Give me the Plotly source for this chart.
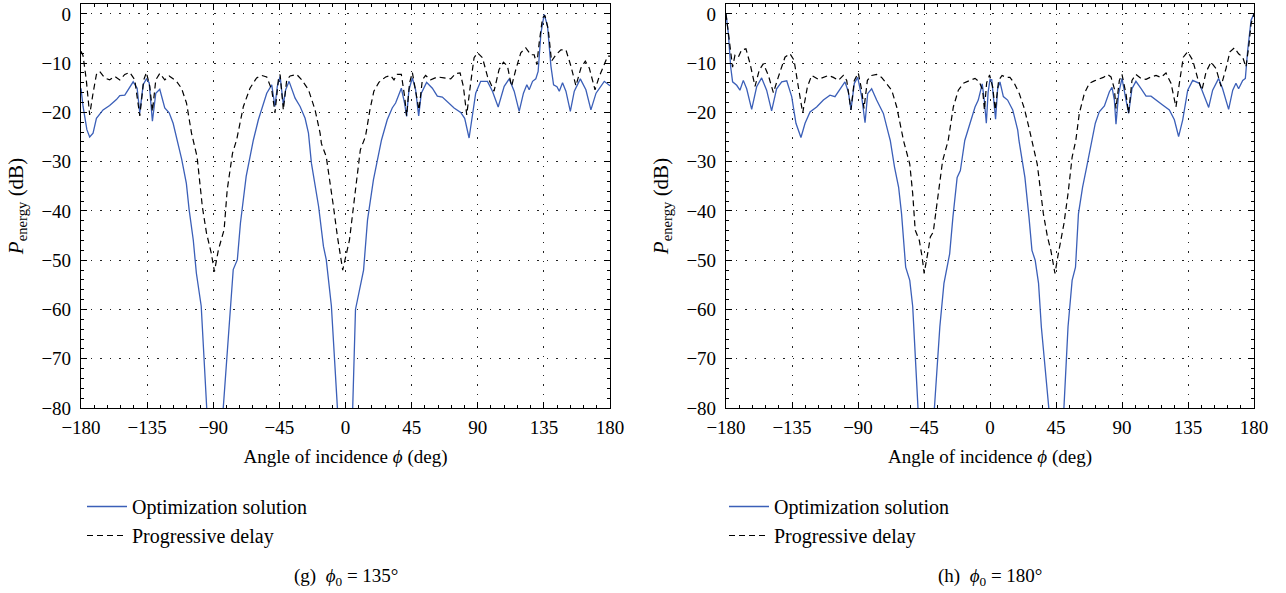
import plotly.graph_objects as go

# ---------------- data ----------------
# (g) phi0 = 135 deg
g_opt_x = [-180, -178.6, -176, -174.1, -171.8, -169.5, -165, -160.5, -155.9, -153.6, -150.2, -146.8, -144.5,
           -141.8, -140, -137.7, -135.5, -133.6, -131.4, -129.1, -126.4, -123, -120, -117.3, -115, -111.5,
           -108.3, -106.4, -103.6, -101.5, -98.2, -94.6, -89, -83.2, -76.4, -73.6, -71.5, -67.6, -62.7,
           -59.3, -56.4, -53.6, -50.2, -48, -46.4, -44.5, -42.3, -40.7, -38.4, -34.3, -30.9, -27.5, -25.2,
           -23.2, -18.3, -15, -13.1, -9.6, -5.5, 0, 4.9, 6.8, 12.3, 15, 19, 24.5,
           28.4, 31.8, 34.1, 36.4, 38, 40.2, 41.6, 43.2, 45.5, 47.7, 49.8, 51.6, 55.2, 59.1, 62.5, 65.9,
           69.3, 73.9, 78.4, 81.1, 84.1, 86.4, 88.6, 92, 96.6, 100, 103.9, 108, 111.4, 114.8, 118.2, 121.1,
           123.4, 125, 127.3, 129.5, 131.1, 133, 135.2, 137.5, 139.8, 141.6, 143.9, 145.5, 147.7, 150, 153,
           155.7, 159.8, 163.6, 167, 170.5, 176.1, 180]
g_opt_y = [-15.1, -18.8, -23.5, -25.0, -24.2, -21.2, -19.5, -18.6, -17.4, -16.6, -16.5, -14.8, -13.8,
           -15.1, -20.1, -14.4, -13.2, -14.0, -21.8, -16.1, -15.3, -19.1, -20.1, -22.2, -24.9, -29.5,
           -34.4, -39.8, -45.9, -52.6, -59.3, -80, -110, -80, -51.9, -49.9, -42.5, -33, -25.6,
           -21.5, -18.6, -16.1, -14.4, -18.8, -14.7, -12.7, -18.4, -15.4, -13.7, -17.1, -18.8, -21.2, -24.2,
           -30.3, -39.1, -47.2, -49.9, -59.3, -80, -110, -80, -60, -52, -41.8, -33.7, -25.6,
           -21.5, -19.1, -18.1, -16.1, -15.1, -18.1, -20.8, -15.4, -13.0, -15.4, -20.7, -16.1, -13.9, -15.1, -16.7, -16.9,
           -17.8, -19.1, -20, -21.2, -25.2, -20.8, -16.1, -13.7, -13.7, -15.7, -18.9, -14.7, -13.2, -15.7, -19.8, -16.1,
           -14.4, -15.4, -13.7, -13.2, -11.7, -3.9, -0.1, -2.5, -10.6, -14.4, -14.8, -15.7, -14.0, -15.7, -19.8,
           -15.7, -13.2, -15.4, -19.5, -16.1, -13.7, -14.6]

g_prog_x = [-180, -178.6, -176.4, -174.1, -171.8, -169.5, -167.3, -163.9, -160.5, -157, -153.6, -150.2, -146.8,
            -143.4, -140, -137.3, -135.5, -133.2, -131.4, -129.1, -126.4, -123, -120, -115, -111.6, -108.2,
            -104.8, -101, -97.4, -94.6, -91.4, -89.2, -86.5, -82.6, -80.5, -76.9, -74.1, -69.5, -65, -60.5,
            -57, -53.6, -50.2, -48, -45.7, -44.5, -42.3, -40, -37.7, -33.2, -29.8, -25.2, -20.7, -17.3, -16.4,
            -13.1, -8.2, -5.5, -1.9, 2.7, 6.8, 10.1, 13.6, 16.6, 19.3, 22.7, 27.3, 30.7, 33, 35.2, 38, 40.2,
            41.6, 43.6, 45.5, 47.7, 50, 52.3, 54.5, 58, 62.5, 67, 71.6, 75, 78, 80.2, 82.5, 85.2, 87.5, 89.8,
            93.2, 96.6, 101.1, 104.5, 107.5, 110.2, 113, 115.9, 119.3, 122.7, 126.1, 128.4, 130.2, 131.8, 134.1,
            135.7, 138, 140.2, 143.2, 146.6, 150, 153.4, 156.8, 160.2, 163.2, 165.9, 169.8, 172.7, 176.1, 178.4, 180]
g_prog_y = [-7.6, -8.5, -13.4, -20.5, -16.1, -12.3, -11.7, -13, -13.4, -12.7, -13.4, -12.3, -11.9,
            -13.4, -20.7, -13.4, -11.9, -14.7, -19.8, -13.4, -12.1, -13.4, -12.6, -13.7, -15.1, -18.1,
            -24.2, -29, -39.2, -44.5, -48.5, -52.3, -47.9, -43.8, -35.7, -28.3, -25.6, -18.8, -15.1, -13,
            -12.5, -12.8, -15.4, -20.1, -13.4, -12.3, -19.5, -13.4, -12.6, -12.3, -13.4, -15.4, -19.5, -24.2, -26.3,
            -29, -39.1, -45.2, -52, -45.9, -35.7, -27.6, -24.9, -19.5, -15.7, -13.9, -12.8, -12.5, -13.4, -12.3, -12.3, -16.7,
            -20.7, -14, -11.9, -15.4, -19.5, -13.4, -12.5, -13.4, -12.8, -13, -13.2, -12.1, -12, -14.7, -20.5, -14.0, -8.9, -7.9,
            -8.9, -12.7, -15.7, -11.3, -9.8, -10.6, -14.7, -11.3, -7.9, -6.9, -8.3, -8.3, -10.3, -5.9, -0.8,
            -0.3, -3.2, -9.6, -8.3, -7.3, -7.3, -10.6, -14.6, -11.0, -9.6, -11.0, -15.4, -12.7, -10.0, -8.6, -8.6]

# (h) phi0 = 180 deg
h_opt_x = [-180, -178.4, -176.8, -175.5, -172.7, -170.5, -168.2, -165.9, -162.5, -159.1, -155.7, -152.3, -148.9,
           -145.5, -142, -138.6, -135.2, -132.3, -128.9, -126.1, -122.7, -118.2, -113.6, -109.1, -105.7, -102.3,
           -98.9, -96.6, -94.8, -92.5, -90.2, -87.5, -85.2, -83.4, -80.7, -77.3, -72.7, -69.3, -68, -65.1,
           -62.3, -60.3, -57.5, -54.7, -52.7, -49.1, -43.5, -37.9, -34.2, -31.4, -29.5, -27.5, -25.3, -22.4,
           -20.2, -17.2, -13.6, -10.2, -8, -6.5, -5.3, -3.9, -2.5, -1.3, 0, 1.2, 2.5, 3.8, 5.2, 6.8, 9.1, 12,
           15.5, 18.9, 19.8, 21.9, 23.8, 26.6, 28.6, 30.8, 33.1, 35, 40.1, 45.3, 50.4, 53.2, 56, 58.3, 60.3,
           63.1, 65.9, 69.2, 71.8, 74.5, 78, 81.4, 83.2, 84.8, 85.9, 87.7, 90, 92.3, 94.5, 96.8, 99.5, 103,
           106.4, 109.8, 113.2, 117.7, 122.3, 125.7, 128.6, 131.4, 134.8, 138.2, 142.7, 146.1, 149.1, 151.8,
           155.9, 158.6, 162.7, 165.5, 167.7, 169.5, 172.3, 174.1, 175.7, 178, 180]
h_opt_y = [0, -4, -10.8, -13.8, -14.5, -15.5, -13.5, -15.2, -19.4, -14.8, -13, -15.5, -19.7,
           -15.2, -13.8, -13.6, -16.8, -22.2, -25.1, -22.2, -19.9, -18.9, -17.5, -16.5, -16.8, -15.2,
           -13.8, -15.8, -19.5, -14.1, -12.9, -16.8, -22.1, -16.2, -15.2, -17.5, -20.2, -24.2, -25.7, -31.1,
           -35.2, -40.6, -51.4, -54.1, -59.4, -80, -110, -80, -63.5, -54.7, -51.4, -48.7, -41.3, -33.2,
           -31.8, -25.7, -22.2, -18.9, -17.5, -15.5, -14.2, -17.5, -22.2, -16, -13.3, -13.4, -17.5, -21.4, -15.2, -13.8, -16.8, -17.5,
           -19.5, -23.6, -25.8, -29.8, -33.2, -41.3, -48, -50, -54.7, -63.5, -80, -110, -80, -63.5, -54.1, -51.4, -40.6,
           -35.2, -31.1, -25.7, -22.2, -19.9, -18.7, -15.8, -14.9, -17.5, -22.4, -16.2, -13.1, -16.8, -20.2, -15.2, -13.7, -15.2,
           -16.7, -16.7, -17.4, -18.5, -19.5, -21.5, -24.9, -21.5, -15.5, -13.5, -14.1, -16.8, -19, -15.5,
           -13.1, -15.2, -19.4, -15.5, -14.1, -15.2, -13.5, -13.1, -7.4, -1.3, 0]

h_prog_x = [-180, -177.7, -175.5, -173.9, -171.6, -169.3, -166.4, -163.6, -160.2, -157.3, -154.5, -151.1, -147.7,
            -144.3, -139.8, -136.4, -133.6, -130.7, -127.7, -124.5, -121.6, -117, -113.6, -110.2, -106.8, -103.4,
            -100, -97.7, -94.8, -92.5, -89.8, -87.5, -85.9, -83.6, -80.7, -77.3, -73.9, -70.5, -67, -63.6, -60.2,
            -58.9, -54.7, -52.7, -51, -48.2, -46.3, -44.9, -42.1, -40.7, -38.7, -35.1, -32.3, -28.5, -25, -21.6,
            -18.2, -13.6, -10.2, -7.3, -5, -3.8, -2.3, -0.3, 1.8, 3.6, 5.9, 8.2, 10.9, 13.6, 16.6, 20, 23.4, 26.4,
            28.5, 32.2, 36.4, 39.2, 41.5, 44.3, 46.2, 48.2, 50.4, 53.2, 56, 58.5, 60.9, 64.3, 67.7, 71.1, 74.5,
            77.3, 80.2, 82.5, 84.8, 85.9, 88.2, 90, 92.7, 94.5, 96.8, 99.5, 103, 106.4, 109.8, 113.2, 116.6, 120,
            123.4, 126.8, 129.1, 131.8, 134.8, 138.2, 141.6, 144.5, 147.3, 150.7, 154.1, 157.5, 160.9, 163.6,
            166.6, 169.5, 172.3, 174.5, 176.4, 178, 180]
h_prog_y = [0, -6.1, -10.8, -8.4, -8.8, -7.3, -7.1, -10.1, -14.7, -11.4, -10.1, -12.5, -16,
            -12.8, -8.8, -8.1, -9.4, -14.8, -20.1, -14.8, -12.5, -13.3, -12.9, -12.5, -12.9, -13.5,
            -12.5, -13.5, -19.5, -13.5, -12, -15.5, -19.2, -13.5, -12.5, -12.3, -12.9, -14.1, -15.5, -18.9, -23.6,
            -25.8, -30.5, -36.5, -43.9, -46, -49.3, -52.7, -48, -45.3, -44.3, -35.9, -29.8, -25.7, -18.9, -15.5,
            -14.1, -13.5, -13.1, -13.8, -15.5, -19.5, -14, -12.4, -14.8, -19.5, -13.5, -12.5, -12.9, -12.9, -14.1, -16.2, -19.2, -22.9,
            -25.7, -30.5, -40.6, -45.3, -48, -52.7, -49.3, -46, -42.6, -36.5, -29.1, -25.7, -20.2, -16.2, -14.1, -13.6, -13.3,
            -12.9, -12.3, -12.8, -15.2, -19.2, -13.5, -12.3, -16.2, -20.2, -13.5, -12.3, -13.1, -13.3, -12.8, -12.5, -12.9, -12.0,
            -14.1, -18.9, -14.1, -8.8, -7.7, -9.4, -13.1, -15.5, -11.8, -9.8, -11.1, -14.7, -11.1, -7.7,
            -6.9, -8.1, -8.8, -10.8, -6.7, -2, 0]

x_ticks = [-180, -135, -90, -45, 0, 45, 90, 135, 180]
y_ticks = [0, -10, -20, -30, -40, -50, -60, -70, -80]
captions = ["(g)  <i>ϕ</i><sub>0</sub> = 135°", "(h)  <i>ϕ</i><sub>0</sub> = 180°"]
series_names = ["Optimization solution", "Progressive delay"]

# ---------------- styling ----------------
FONT = "Liberation Serif, Times New Roman, Times, serif"
BLUE = "#3b5fb8"
W, H = 1286, 593

fig = go.Figure()
panels = [
    ("x", "y", "legend", g_opt_x, g_opt_y, g_prog_x, g_prog_y),
    ("x2", "y2", "legend2", h_opt_x, h_opt_y, h_prog_x, h_prog_y),
]
for i, (xa, ya, lg, ox, oy, px, py) in enumerate(panels):
    fig.add_trace(go.Scatter(x=ox, y=oy, mode="lines", name=series_names[0], xaxis=xa, yaxis=ya,
                             legend=lg, legendgroup=f"a{i}",
                             line=dict(color=BLUE, width=1.3)))
    fig.add_trace(go.Scatter(x=px, y=py, mode="lines", name=series_names[1], xaxis=xa, yaxis=ya,
                             legend=lg, legendgroup=f"b{i}",
                             line=dict(color="black", width=1.2, dash="6px,4px")))

ydom = [1 - 408 / H, 1 - 4 / H]
xdoms = [[81 / W, 610 / W], [726 / W, 1254 / W]]

def xaxis_cfg(dom, anchor):
    return dict(domain=dom, anchor=anchor, range=[-180, 180], tickmode="array", tickvals=x_ticks,
                ticks="inside", ticklen=6, tickwidth=1, tickcolor="black", mirror="allticks",
                showline=True, linecolor="black", linewidth=1.2, zeroline=False,
                showgrid=True, gridcolor="#222", gridwidth=1, griddash="1.5px,8px",
                minor=dict(dtick=9, tick0=0, ticks="inside", ticklen=3, tickcolor="black", showgrid=False),
                tickfont=dict(family=FONT, size=19, color="black"), ticklabelstandoff=2,
                title=dict(text="Angle of incidence <i>ϕ</i> (deg)", standoff=12,
                           font=dict(family=FONT, size=19, color="black")),
                automargin=False)

def yaxis_cfg(anchor):
    return dict(domain=ydom, anchor=anchor, range=[-80, 2], tickmode="array", tickvals=y_ticks,
                ticks="inside", ticklen=6, tickwidth=1, tickcolor="black", mirror="allticks",
                showline=True, linecolor="black", linewidth=1.2, zeroline=False,
                showgrid=True, gridcolor="#222", gridwidth=1, griddash="1.5px,8px",
                minor=dict(dtick=2, tick0=0, ticks="inside", ticklen=3, tickcolor="black", showgrid=False),
                tickfont=dict(family=FONT, size=19, color="black"), ticklabelstandoff=5,
                title=dict(text="<i>P</i><sub>energy</sub> (dB)", standoff=12,
                           font=dict(family=FONT, size=21, color="black")),
                automargin=False)

legend_common = dict(font=dict(family=FONT, size=20, color="black"), bgcolor="rgba(0,0,0,0)",
                     xanchor="left", yanchor="top", tracegroupgap=0, itemwidth=40,
                     traceorder="grouped")

fig.update_layout(
    width=W, height=H, margin=dict(l=0, r=0, t=0, b=0),
    paper_bgcolor="white", plot_bgcolor="white",
    font=dict(family=FONT, color="black"),
    xaxis=xaxis_cfg(xdoms[0], "y"), yaxis=yaxis_cfg("x"),
    xaxis2=xaxis_cfg(xdoms[1], "y2"), yaxis2=yaxis_cfg("x2"),
    legend=dict(x=82 / W, y=1 - 487 / H, **legend_common),
    legend2=dict(x=724 / W, y=1 - 487 / H, **legend_common),
    showlegend=True,
)

for k, cap in enumerate(captions):
    cx = (xdoms[k][0] + xdoms[k][1]) / 2
    fig.add_annotation(text=cap, x=cx, y=1 - 577 / H, xref="paper", yref="paper",
                       showarrow=False, xanchor="center", yanchor="middle",
                       font=dict(family=FONT, size=19, color="black"))

fig.write_html("out.html", config={"displayModeBar": False},
               post_script="document.body.style.margin='0';document.body.style.overflow='hidden';")
